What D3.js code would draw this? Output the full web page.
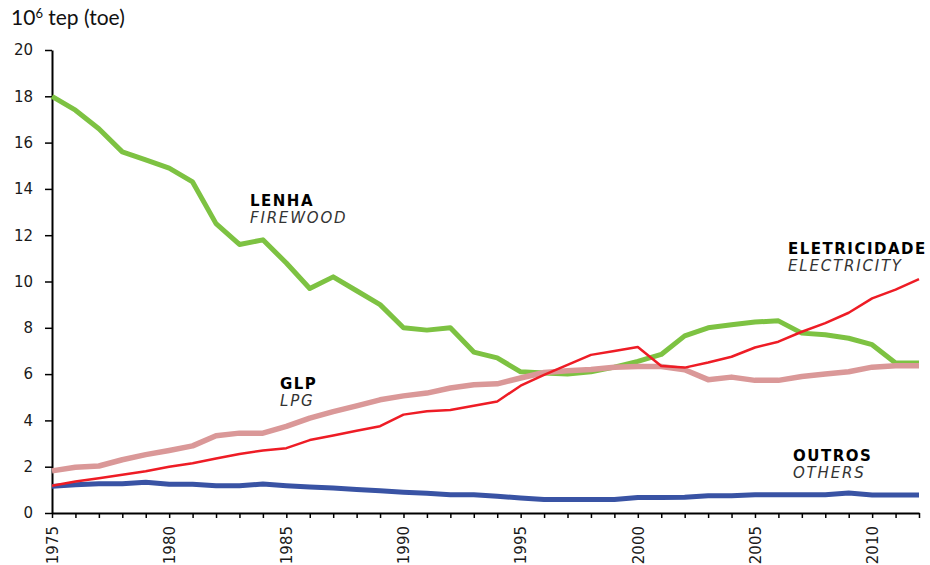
<!DOCTYPE html>
<html>
<head>
<meta charset="utf-8">
<script src="https://cdn.jsdelivr.net/npm/d3@7"></script>
<style>
  body { margin: 0; background: #fff; }
  .tick text { font-family: "DejaVu Sans", Verdana, sans-serif; font-size: 15px; fill: #1a1a1a; }
  .lbl-b { font-family: "DejaVu Sans", Verdana, sans-serif; font-weight: bold; font-size: 15px; letter-spacing: 1.5px; fill: #000; }
  .lbl-i { font-family: "DejaVu Sans", Verdana, sans-serif; font-style: italic; font-size: 15px; letter-spacing: 1.8px; fill: #333; }
</style>
</head>
<body>
<svg id="chart" width="930" height="565"></svg>
<script>
const years = d3.range(1975, 2013);

const firewood = [18.0, 17.4, 16.6, 15.6, 15.25, 14.9, 14.3, 12.5, 11.6, 11.8,
  10.8, 9.7, 10.2, 9.6, 9.0, 8.0, 7.9, 8.0, 6.95, 6.7,
  6.1, 6.05, 6.0, 6.1, 6.3, 6.55, 6.85, 7.65, 8.0, 8.13,
  8.25, 8.3, 7.77, 7.7, 7.55, 7.27, 6.48, 6.48];

const lpg = [1.82, 1.98, 2.03, 2.3, 2.52, 2.7, 2.9, 3.34, 3.45, 3.45,
  3.74, 4.1, 4.38, 4.63, 4.89, 5.06, 5.18, 5.4, 5.54, 5.58,
  5.83, 6.07, 6.14, 6.2, 6.3, 6.33, 6.33, 6.19, 5.76, 5.87,
  5.73, 5.73, 5.9, 6.0, 6.1, 6.3, 6.36, 6.36];

const electricity = [1.18, 1.36, 1.5, 1.65, 1.8, 2.0, 2.15, 2.35, 2.55, 2.7,
  2.8, 3.15, 3.35, 3.55, 3.75, 4.25, 4.4, 4.45, 4.63, 4.82,
  5.5, 5.97, 6.4, 6.83, 7.0, 7.17, 6.35, 6.28, 6.5, 6.75,
  7.15, 7.4, 7.83, 8.2, 8.65, 9.27, 9.65, 10.1];

const others = [1.15, 1.22, 1.26, 1.26, 1.33, 1.24, 1.24, 1.18, 1.18, 1.25,
  1.18, 1.12, 1.08, 1.02, 0.96, 0.9, 0.85, 0.79, 0.79, 0.72,
  0.65, 0.58, 0.58, 0.58, 0.58, 0.67, 0.67, 0.68, 0.75, 0.75,
  0.79, 0.79, 0.79, 0.79, 0.86, 0.78, 0.78, 0.78];

const yTicks = d3.range(0, 21, 2);
const xLabelYears = [1975, 1980, 1985, 1990, 1995, 2000, 2005, 2010];

const series = [
  { name: 'others', values: others, color: '#3953a4', width: 5 },
  { name: 'firewood', values: firewood, color: '#7dc242', width: 5 },
  { name: 'lpg', values: lpg, color: '#da9898', width: 5.5 },
  { name: 'electricity', values: electricity, color: '#ee1c25', width: 2.5 }
];

const labels = [
  { bold: 'LENHA', italic: 'FIREWOOD', x: 250, y: 206 },
  { bold: 'GLP', italic: 'LPG', x: 280, y: 389 },
  { bold: 'ELETRICIDADE', italic: 'ELECTRICITY', x: 788, y: 254 },
  { bold: 'OUTROS', italic: 'OTHERS', x: 793, y: 461 }
];

const svg = d3.select('#chart');

const x = d3.scaleLinear().domain([1975, 2012]).range([52, 919]);
const y = d3.scaleLinear().domain([0, 20]).range([513, 50]);

// axes
const yAxis = svg.append('g')
  .attr('transform', `translate(${x(1975)},0)`)
  .call(d3.axisLeft(y).tickValues(yTicks).tickSize(7).tickPadding(12).tickSizeOuter(0));

const xAxis = svg.append('g')
  .attr('transform', `translate(0,${y(0)})`)
  .call(d3.axisBottom(x).tickValues(years).tickSize(5).tickSizeOuter(0)
    .tickFormat(d => xLabelYears.includes(d) ? d : ''));

[yAxis, xAxis].forEach(a => {
  a.select('.domain').attr('stroke', '#000').attr('stroke-width', 2);
  a.selectAll('.tick line').attr('stroke', '#000').attr('stroke-width', 1.5);
});

xAxis.selectAll('.tick text')
  .attr('transform', 'rotate(-90)')
  .attr('text-anchor', 'end')
  .attr('x', -13)
  .attr('y', 0)
  .attr('dy', '0.35em');

// lines
const line = d3.line()
  .x((d, i) => x(years[i]))
  .y(d => y(d));

svg.append('g')
  .selectAll('path')
  .data(series)
  .join('path')
  .attr('fill', 'none')
  .attr('stroke', d => d.color)
  .attr('stroke-width', d => d.width)
  .attr('stroke-linejoin', 'round')
  .attr('d', d => line(d.values));

// series labels
const lab = svg.append('g').selectAll('g').data(labels).join('g');
lab.append('text').attr('class', 'lbl-b').attr('x', d => d.x).attr('y', d => d.y).text(d => d.bold);
lab.append('text').attr('class', 'lbl-i').attr('x', d => d.x).attr('y', d => d.y + 17).text(d => d.italic);

// unit title
const title = svg.append('text')
  .attr('x', 11)
  .attr('y', 25)
  .style('font-family', 'Lato, "Open Sans", sans-serif')
  .style('font-size', '21px')
  .attr('fill', '#111');
title.append('tspan').text('10');
title.append('tspan').attr('dy', -7).style('font-size', '13px').text('6');
title.append('tspan').attr('dy', 7).text(' tep (toe)');
</script>
</body>
</html>
